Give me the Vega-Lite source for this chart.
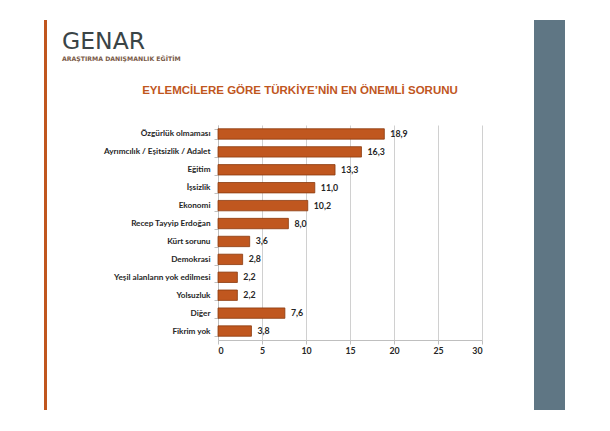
{
  "$schema": "https://vega.github.io/schema/vega-lite/v6.json",
  "background": "white",
  "padding": {"left": 44, "top": 20, "right": 0, "bottom": 0},
  "spacing": 51,
  "config": {
    "view": {"stroke": null},
    "locale": {"number": {"decimal": ",", "thousands": ".", "grouping": [3], "currency": ["", " TL"]}}
  },
  "hconcat": [
    {
      "spacing": 15,
      "hconcat": [
        {
          "width": 3,
          "height": 390,
          "view": {"fill": "#C0561E", "stroke": null},
          "data": {"values": [{"a": 1}]},
          "mark": {"type": "point", "size": 0, "opacity": 0},
          "encoding": {}
        },
        {
          "spacing": 22,
          "vconcat": [
            {
              "width": 10,
              "height": 1,
              "title": {
                "text": "GENAR",
                "subtitle": "ARAŞTIRMA DANIŞMANLIK EĞİTİM",
                "orient": "bottom",
                "anchor": "start",
                "frame": "group",
                "dx": -156,
                "offset": 9,
                "font": "DejaVu Sans",
                "fontSize": 23.5,
                "fontWeight": "normal",
                "color": "#3A4446",
                "subtitleFont": "DejaVu Sans",
                "subtitleFontSize": 6.2,
                "subtitleFontWeight": "bold",
                "subtitleColor": "#7A5A48",
                "subtitlePadding": 2
              },
              "data": {"values": [{"a": 1}]},
              "mark": {"type": "point", "size": 0, "opacity": 0},
              "encoding": {}
            },
            {
              "width": 264,
              "height": 215,
              "title": {
                "text": "EYLEMCİLERE GÖRE TÜRKİYE’NİN EN ÖNEMLİ SORUNU",
                "font": "Liberation Sans",
                "fontSize": 11.5,
                "fontWeight": "bold",
                "color": "#C0561E",
                "anchor": "middle",
                "dx": -50,
                "offset": 24
              },
              "data": {
                "values": [
                  {"sorun": "Özgürlük olmaması", "yuzde": 18.9},
                  {"sorun": "Ayrımcılık / Eşitsizlik / Adalet", "yuzde": 16.3},
                  {"sorun": "Eğitim", "yuzde": 13.3},
                  {"sorun": "İşsizlik", "yuzde": 11.0},
                  {"sorun": "Ekonomi", "yuzde": 10.2},
                  {"sorun": "Recep Tayyip Erdoğan", "yuzde": 8.0},
                  {"sorun": "Kürt sorunu", "yuzde": 3.6},
                  {"sorun": "Demokrasi", "yuzde": 2.8},
                  {"sorun": "Yeşil alanların yok edilmesi", "yuzde": 2.2},
                  {"sorun": "Yolsuzluk", "yuzde": 2.2},
                  {"sorun": "Diğer", "yuzde": 7.6},
                  {"sorun": "Fikrim yok", "yuzde": 3.8}
                ]
              },
              "encoding": {
                "y": {
                  "field": "sorun",
                  "type": "nominal",
                  "sort": null,
                  "scale": {"paddingInner": 0.42, "paddingOuter": 0.21},
                  "axis": {
                    "title": null,
                    "domainColor": "#BFBFBF",
                    "ticks": true,
                    "tickBand": "extent",
                    "tickSize": 4,
                    "tickColor": "#BFBFBF",
                    "labelPadding": 4,
                    "labelFont": "Lato",
                    "labelFontWeight": "bold",
                    "labelFontSize": 8.2,
                    "labelColor": "#262626",
                    "grid": false
                  }
                },
                "x": {
                  "field": "yuzde",
                  "type": "quantitative",
                  "scale": {"domain": [0, 30], "nice": false},
                  "axis": {
                    "title": null,
                    "values": [0, 5, 10, 15, 20, 25, 30],
                    "format": "d",
                    "domainColor": "#BFBFBF",
                    "tickColor": "#BFBFBF",
                    "tickSize": 4,
                    "grid": true,
                    "gridColor": "#D0D0D0",
                    "labelPadding": 2,
                    "labelFont": "Lato",
                    "labelFontWeight": "bold",
                    "labelFontSize": 8.8,
                    "labelColor": "#262626"
                  }
                }
              },
              "layer": [
                {"mark": {"type": "bar", "fill": "#C0571F", "stroke": "#8A3A0E", "strokeWidth": 0.8}},
                {
                  "mark": {"type": "text", "align": "left", "dx": 6, "font": "Lato", "fontWeight": "bold", "fontSize": 8.8, "color": "#262626"},
                  "encoding": {"text": {"field": "yuzde", "type": "quantitative", "format": ".1f"}}
                }
              ]
            }
          ]
        }
      ]
    },
    {
      "width": 31,
      "height": 390,
      "view": {"fill": "#5F7684", "stroke": null},
      "data": {"values": [{"a": 1}]},
      "mark": {"type": "point", "size": 0, "opacity": 0},
      "encoding": {}
    }
  ]
}
